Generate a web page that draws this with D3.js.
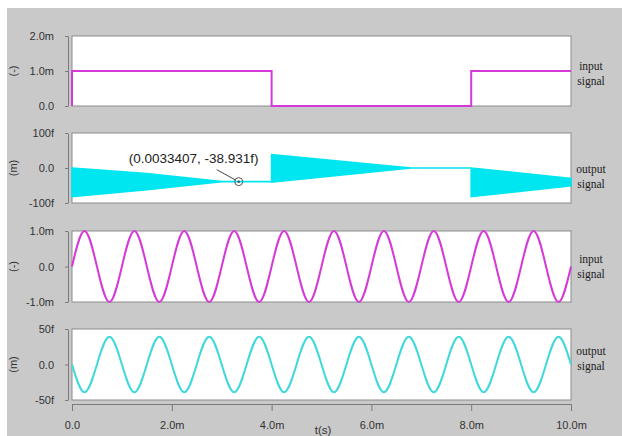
<!DOCTYPE html>
<html>
<head>
<meta charset="utf-8">
<script src="https://cdn.jsdelivr.net/npm/d3@7/dist/d3.min.js"></script>
<style>
  body { margin: 0; background: #fff; }
  svg { display: block; }
</style>
</head>
<body>
<svg id="chart" width="622" height="436"></svg>
<script>
// colours
const colors = {
    magenta: "#d63ad6",
    band: "#00e6f0",
    cyan: "#3fd8dc",
    bg: "#c9c9c9",
    axis: "#7a7a7a",
    text: "#333333"
};

// time axis (ms)
const timeTicks = [0, 2, 4, 6, 8, 10];
const timeTickLabels = ["0.0", "2.0m", "4.0m", "6.0m", "8.0m", "10.0m"];

// panel 1: step input (mV)
const stepTimes = [0, 0, 4, 4, 8, 8, 10];
const stepInput = [0, 1, 1, 0, 0, 1, 1];

// panel 2: envelope of the fast ringing output (fV)
const bandTimes = [0, 1.5, 3.0, 4.0, 4.0, 6.8, 8.0, 8.0, 10.0];
const bandUpper = [0, -16, -38.9, -38.9, 38, 0, 0, 0, -30];
const bandLower = [-82, -62, -38.9, -38.9, -40, 0, 0, -82, -51];

// marker on panel 2
const markerT = 3.3407;
const markerV = -38.931;
const markerLabel = "(0.0033407, -38.931f)";

// panels 3 and 4: sine input (mV) / sine output (fV), read at quarter periods
const sineTimes = [
    0, 0.25, 0.5, 0.75, 1, 1.25, 1.5, 1.75, 2, 2.25, 2.5, 2.75, 3, 3.25,
    3.5, 3.75, 4, 4.25, 4.5, 4.75, 5, 5.25, 5.5, 5.75, 6, 6.25, 6.5, 6.75,
    7, 7.25, 7.5, 7.75, 8, 8.25, 8.5, 8.75, 9, 9.25, 9.5, 9.75, 10
];
const sineInput = [
    0, 1, 0, -1, 0, 1, 0, -1, 0, 1, 0, -1, 0, 1,
    0, -1, 0, 1, 0, -1, 0, 1, 0, -1, 0, 1, 0, -1,
    0, 1, 0, -1, 0, 1, 0, -1, 0, 1, 0, -1, 0
];
const sineOutput = [
    0, -39, 0, 39, 0, -39, 0, 39, 0, -39, 0, 39, 0, -39,
    0, 39, 0, -39, 0, 39, 0, -39, 0, 39, 0, -39, 0, 39,
    0, -39, 0, 39, 0, -39, 0, 39, 0, -39, 0, 39, 0
];

// y ticks for each panel
const p1Ticks = [0, 1, 2], p1Labels = ["0.0", "1.0m", "2.0m"];
const p2Ticks = [-100, 0, 100], p2Labels = ["-100f", "0.0", "100f"];
const p3Ticks = [-1, 0, 1], p3Labels = ["-1.0m", "0.0", "1.0m"];
const p4Ticks = [-50, 0, 50], p4Labels = ["-50f", "0.0", "50f"];

const unitLabels = ["(-)", "(m)", "(-)", "(m)"];
const sideLabels = [["input", "signal"], ["output", "signal"], ["input", "signal"], ["output", "signal"]];

// layout
const plotLeft = 72, plotRight = 571;
const panels = [
    { top: 36, bottom: 106, domain: [0, 2], ticks: p1Ticks, labels: p1Labels, sideY: 70 },
    { top: 133, bottom: 203, domain: [-100, 100], ticks: p2Ticks, labels: p2Labels, sideY: 173 },
    { top: 231, bottom: 302, domain: [-1, 1], ticks: p3Ticks, labels: p3Labels, sideY: 263 },
    { top: 329, bottom: 400, domain: [-50, 50], ticks: p4Ticks, labels: p4Labels, sideY: 355 }
];

const svg = d3.select("#chart");

// grey backdrop
svg.append("rect")
    .attr("x", 7).attr("y", 8)
    .attr("width", 615).attr("height", 428)
    .attr("fill", colors.bg);

const x = d3.scaleLinear().domain([0, 10]).range([plotLeft, plotRight]);

const yScales = panels.map((p, i) => {
    const y = d3.scaleLinear().domain(p.domain).range([p.bottom, p.top]);

    // white plot frame
    svg.append("rect")
        .attr("x", plotLeft).attr("y", p.top)
        .attr("width", plotRight - plotLeft).attr("height", p.bottom - p.top)
        .attr("fill", "#fff")
        .attr("stroke", "#8c8c8c")
        .attr("stroke-width", 1);

    // left axis, set a little off the frame
    const ax = svg.append("g")
        .attr("transform", `translate(${plotLeft - 4},0)`)
        .call(d3.axisLeft(y)
            .tickValues(p.ticks)
            .tickFormat((d, j) => p.labels[j])
            .tickSize(3)
            .tickSizeOuter(0)
            .tickPadding(11));
    ax.select(".domain").attr("stroke", colors.axis);
    ax.selectAll(".tick line").attr("stroke", colors.axis);
    ax.selectAll("text")
        .attr("fill", colors.text)
        .style("font-family", "'Liberation Sans', Arial, sans-serif")
        .style("font-size", "11px");

    // unit label
    const mid = (p.top + p.bottom) / 2;
    svg.append("text")
        .attr("transform", `translate(13,${mid}) rotate(-90)`)
        .attr("text-anchor", "middle")
        .attr("dominant-baseline", "central")
        .attr("fill", colors.text)
        .style("font-family", "'Liberation Sans', Arial, sans-serif")
        .style("font-size", "11px")
        .text(unitLabels[i]);

    // right-hand label
    svg.append("text")
        .attr("x", 591)
        .attr("text-anchor", "middle")
        .attr("fill", "#222")
        .style("font-family", "'Liberation Serif', 'Times New Roman', serif")
        .style("font-size", "11.5px")
        .selectAll("tspan")
        .data(sideLabels[i])
        .enter().append("tspan")
        .attr("x", 591)
        .attr("y", (d, j) => p.sideY + j * 15)
        .text(d => d);

    return y;
});

// panel 1: step
const stepData = stepTimes.map((t, i) => ({ t: t, v: stepInput[i] }));
svg.append("path")
    .datum(stepData)
    .attr("fill", "none")
    .attr("stroke", colors.magenta)
    .attr("stroke-width", 2)
    .attr("d", d3.line().x(d => x(d.t)).y(d => yScales[0](d.v)));

// panel 2: ringing band
const bandData = bandTimes.map((t, i) => ({ t: t, hi: bandUpper[i], lo: bandLower[i] }));
svg.append("path")
    .datum(bandData)
    .attr("fill", colors.band)
    .attr("stroke", colors.band)
    .attr("stroke-width", 1.6)
    .attr("d", d3.area()
        .x(d => x(d.t))
        .y0(d => yScales[1](d.lo))
        .y1(d => yScales[1](d.hi)));

// marker + label
const mx = x(markerT), my = yScales[1](markerV);
svg.append("line")
    .attr("x1", mx - 22).attr("y1", my - 12)
    .attr("x2", mx - 3).attr("y2", my - 1.5)
    .attr("stroke", "#444")
    .attr("stroke-width", 1);
svg.append("circle")
    .attr("cx", mx).attr("cy", my).attr("r", 4)
    .attr("fill", "none")
    .attr("stroke", "#555")
    .attr("stroke-width", 1);
svg.append("circle")
    .attr("cx", mx).attr("cy", my).attr("r", 1.2)
    .attr("fill", "#444");
svg.append("text")
    .attr("x", mx - 110).attr("y", my - 19)
    .attr("fill", "#222")
    .style("font-family", "'Liberation Sans', Arial, sans-serif")
    .style("font-size", "13.5px")
    .text(markerLabel);

// panels 3 and 4: sines
const sineLine = y => d3.line()
    .x(d => x(d.t))
    .y(d => y(d.v))
    .curve(d3.curveNatural);

svg.append("path")
    .datum(sineTimes.map((t, i) => ({ t: t, v: sineInput[i] })))
    .attr("fill", "none")
    .attr("stroke", colors.magenta)
    .attr("stroke-width", 2)
    .attr("d", sineLine(yScales[2]));

svg.append("path")
    .datum(sineTimes.map((t, i) => ({ t: t, v: sineOutput[i] })))
    .attr("fill", "none")
    .attr("stroke", colors.cyan)
    .attr("stroke-width", 2)
    .attr("d", sineLine(yScales[3]));

// time axis
const xAxis = svg.append("g")
    .attr("transform", "translate(0,404)")
    .call(d3.axisBottom(x)
        .tickValues(timeTicks)
        .tickFormat((d, i) => timeTickLabels[i])
        .tickSize(7)
        .tickSizeOuter(0)
        .tickPadding(10));
xAxis.select(".domain").attr("stroke", colors.axis);
xAxis.selectAll(".tick line").attr("stroke", colors.axis);
xAxis.selectAll("text")
    .attr("fill", colors.text)
    .style("font-family", "'Liberation Sans', Arial, sans-serif")
    .style("font-size", "11px");

svg.append("text")
    .attr("x", 323).attr("y", 434)
    .attr("text-anchor", "middle")
    .attr("fill", colors.text)
    .style("font-family", "'Liberation Sans', Arial, sans-serif")
    .style("font-size", "11.5px")
    .text("t(s)");
</script>
</body>
</html>
